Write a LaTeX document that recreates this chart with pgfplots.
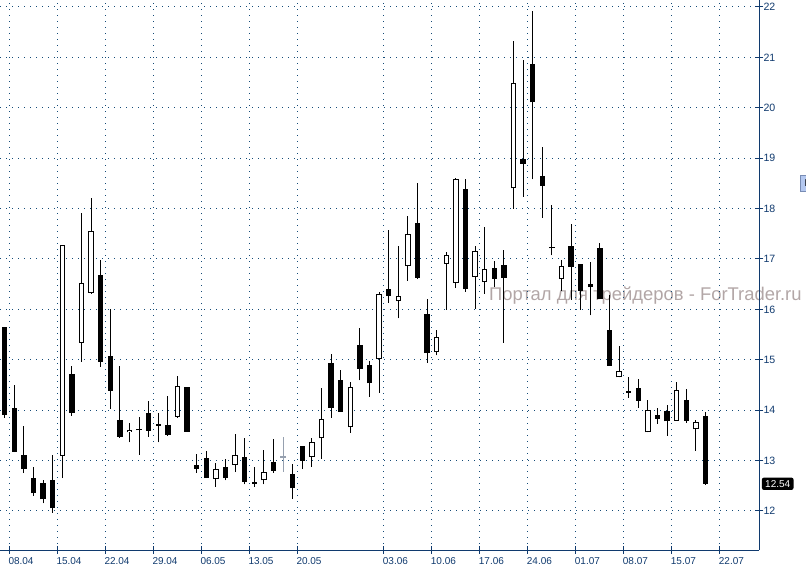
\documentclass[border=0pt]{standalone}
\usepackage{pgfplots}
\pgfplotsset{compat=1.18}
\usepackage{pgfplotstable}
\usepackage{fontspec}
\setmainfont{Liberation Sans}
\definecolor{axiscol}{RGB}{16,58,110}
\definecolor{gridcol}{RGB}{20,75,120}
\definecolor{wmcol}{RGB}{178,166,166}
\definecolor{dojigray}{RGB}{150,160,175}
\definecolor{lbox}{RGB}{180,200,240}
\definecolor{lboxborder}{RGB}{120,140,180}

\pgfplotstableread{
i o h l c w
0 15.65 15.65 13.85 13.91 0
1 14.04 14.50 13.17 13.18 0
2 13.11 13.69 12.75 12.83 0
3 12.65 12.88 12.30 12.35 0
4 12.56 12.62 12.15 12.23 0
5 12.62 13.11 11.97 12.05 0
6 13.10 17.27 12.65 17.27 1
7 14.72 14.88 13.89 13.95 0
8 15.34 17.92 14.96 16.52 1
9 16.33 18.21 16.31 17.56 1
10 16.68 16.98 14.86 14.96 0
11 15.08 16.01 14.03 14.39 0
12 13.81 14.88 13.45 13.47 0
13 13.56 13.74 13.36 13.61 1
14 13.63 13.87 13.12 13.60 0
15 13.94 14.18 13.47 13.59 0
16 13.72 13.94 13.36 13.69 0
17 13.71 14.28 13.49 13.51 0
18 13.87 14.68 13.85 14.49 1
19 14.47 14.47 13.57 13.57 0
20 12.91 13.14 12.76 12.84 0
21 13.05 13.19 12.65 12.65 0
22 12.63 12.95 12.48 12.83 1
23 12.87 13.03 12.61 12.65 0
24 12.91 13.53 12.77 13.12 1
25 13.07 13.45 12.53 12.58 0
26 12.57 12.88 12.48 12.54 0
27 12.61 13.21 12.53 12.77 1
28 12.97 13.43 12.76 12.80 0
29 13.07 13.47 12.78 13.05 2
30 12.73 12.93 12.24 12.45 0
31 13.29 13.29 12.83 13.00 0
32 13.07 13.45 12.88 13.36 1
33 13.44 14.45 13.04 13.83 1
34 14.94 15.12 13.85 14.05 0
35 14.59 14.79 13.97 13.97 0
36 13.66 14.56 13.55 14.47 1
37 15.29 15.64 14.59 14.82 0
38 14.90 14.98 14.27 14.53 0
39 15.01 16.35 14.35 16.30 1
40 16.40 17.58 16.13 16.27 0
41 16.16 17.25 15.82 16.27 1
42 16.86 17.85 16.57 17.49 1
43 17.71 18.51 16.60 16.63 0
44 15.91 16.21 14.94 15.13 0
45 15.15 15.60 15.09 15.45 1
46 16.91 17.14 15.99 17.07 1
47 16.52 18.60 16.42 18.58 1
48 18.38 18.59 16.35 16.40 0
49 16.64 17.25 16.01 17.15 1
50 16.54 17.63 16.31 16.80 1
51 16.82 16.96 16.45 16.61 0
52 16.89 17.18 15.34 16.63 0
53 18.40 21.33 18.00 20.49 1
54 18.98 20.95 18.24 18.89 0
55 20.86 21.92 18.58 20.11 0
56 18.65 19.22 17.82 18.45 0
57 17.24 18.07 17.07 17.21 0
58 16.60 16.98 16.37 16.86 1
59 17.26 17.69 16.19 16.85 0
60 16.90 16.90 15.99 16.37 0
61 16.50 16.95 15.88 16.44 0
62 17.22 17.31 16.20 16.20 0
63 15.59 16.29 14.88 14.88 0
64 14.65 15.27 14.65 14.77 1
65 14.37 14.66 14.25 14.34 0
66 14.45 14.61 14.05 14.19 0
67 13.56 14.20 13.56 14.00 1
68 13.90 14.04 13.73 13.83 0
69 13.98 14.10 13.49 13.78 0
70 13.79 14.56 13.79 14.41 1
71 14.20 14.43 13.75 13.79 0
72 13.62 13.81 13.20 13.76 1
73 13.88 13.96 12.52 12.54 0
}\candles

\begin{document}
\begin{tikzpicture}[x=1bp,y=1bp]
\node[anchor=base west, text=wmcol, font=\fontsize{18.4bp}{22bp}\selectfont, inner sep=0] at (489bp,266bp) {Портал для трейдеров - ForTrader.ru};
\begin{axis}[
  at={(0bp,17bp)}, anchor=south west,
  scale only axis, width=759.3bp, height=550bp,
  xmin=-0.4896, xmax=78.604, ymin=11.2262, ymax=22.1389,
  clip mode=individual,
  axis x line*=bottom, axis y line*=right,
  axis line style={draw=axiscol, line width=1bp, -},
  tick align=center, major tick length=8bp,
  tick style={draw=axiscol, line width=1bp},
  xtick={0.48,5.48,10.48,15.48,20.48,25.48,30.48,39.48,44.48,49.48,54.48,59.48,64.48,69.48,74.48},
  xticklabels={08.04,15.04,22.04,29.04,06.05,13.05,20.05,03.06,10.06,17.06,24.06,01.07,08.07,15.07,22.07},
  ytick={12,13,...,22},
  /pgf/number format/assume math mode=true,
  xticklabel style={anchor=north west, inner sep=0pt, xshift=-1bp, yshift=-3bp, text=axiscol, font=\fontsize{10bp}{12bp}\selectfont},
  yticklabel style={anchor=west, inner sep=0pt, text=axiscol, font=\fontsize{10.6bp}{12bp}\selectfont},
  grid=major,
  major grid style={draw=gridcol, line width=1bp, dash pattern=on 1bp off 5bp},
]
% wicks
\addplot[draw=none, mark=none, forget plot, restrict expr to domain={\thisrow{w}}{0:1},
  error bars/.cd, y dir=plus, y explicit, error mark=none,
  error bar style={draw=black, solid, line width=1bp}]
  table[x=i, y=l, y error plus expr=\thisrow{h}-\thisrow{l}] {\candles};
% bodies outer
\addplot[draw=none, mark=none, forget plot, restrict expr to domain={\thisrow{w}}{0:1},
  error bars/.cd, y dir=plus, y explicit, error mark=none,
  error bar style={draw=black, solid, line width=5.5bp}]
  table[x=i, y expr={min(\thisrow{o},\thisrow{c})}, y error plus expr={max(abs(\thisrow{c}-\thisrow{o}),0.035)}] {\candles};
% white inner
\addplot[draw=none, mark=none, forget plot, restrict expr to domain={\thisrow{w}}{1:1},
  error bars/.cd, y dir=plus, y explicit, error mark=none,
  error bar style={draw=white, solid, line width=3.5bp}]
  table[x=i, y expr={min(\thisrow{o},\thisrow{c})+0.0198}, y error plus expr={abs(\thisrow{c}-\thisrow{o})-0.0397}] {\candles};
% gray doji
\addplot[draw=none, mark=none, forget plot, restrict expr to domain={\thisrow{w}}{2:2},
  error bars/.cd, y dir=plus, y explicit, error mark=none,
  error bar style={draw=dojigray, solid, line width=1bp}]
  table[x=i, y=l, y error plus expr=\thisrow{h}-\thisrow{l}] {\candles};
\addplot[draw=none, mark=none, forget plot, restrict expr to domain={\thisrow{w}}{2:2},
  error bars/.cd, y dir=plus, y explicit, error mark=none,
  error bar style={draw=dojigray, solid, line width=5.5bp}]
  table[x=i, y expr={min(\thisrow{o},\thisrow{c})}, y error plus expr={max(abs(\thisrow{c}-\thisrow{o}),0.035)}] {\candles};
\node[fill=black, text=white, rounded corners=2bp, anchor=west, inner sep=0pt,
  minimum width=31.6bp, minimum height=12.3bp, font=\fontsize{10bp}{12bp}\selectfont]
  at (axis cs:78.604,12.54) [xshift=2.4bp] {12.54};
\end{axis}
\node[fill=lbox, draw=lboxborder, line width=1bp, anchor=west, inner xsep=3bp, inner ysep=0pt,
  minimum height=16.7bp, minimum width=14bp, font=\fontsize{10bp}{12bp}\selectfont] at (799.8bp,383.6bp) {L};
\pgfresetboundingbox
\useasboundingbox (0bp,0bp) rectangle (806bp,567bp);
\end{tikzpicture}
\end{document}
